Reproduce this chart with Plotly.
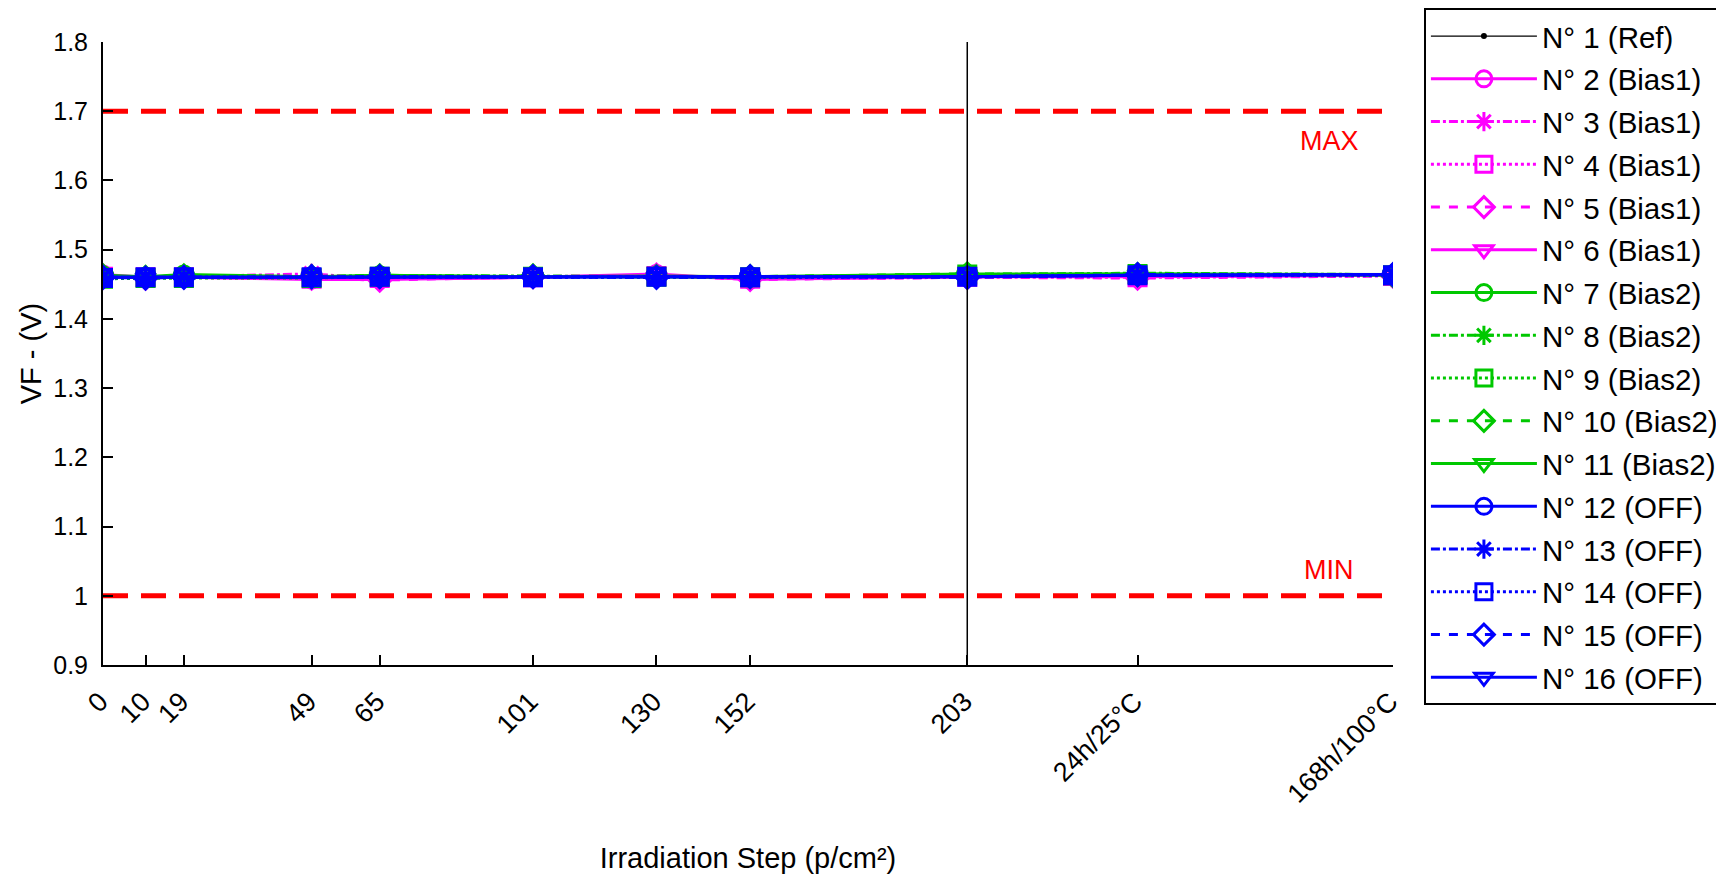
import plotly.graph_objects as go

# ---- data ----
x_steps = [0, 10, 19, 49, 65, 101, 130, 152, 203, 243, 303]
x_labels = ["0", "10", "19", "49", "65", "101", "130", "152", "203", "24h/25°C", "168h/100°C"]

names = ["N° 1 (Ref)", "N° 2 (Bias1)", "N° 3 (Bias1)", "N° 4 (Bias1)", "N° 5 (Bias1)", "N° 6 (Bias1)",
         "N° 7 (Bias2)", "N° 8 (Bias2)", "N° 9 (Bias2)", "N° 10 (Bias2)", "N° 11 (Bias2)",
         "N° 12 (OFF)", "N° 13 (OFF)", "N° 14 (OFF)", "N° 15 (OFF)", "N° 16 (OFF)"]

vf_01 = [1.460, 1.459, 1.460, 1.460, 1.461, 1.460, 1.461, 1.460, 1.461, 1.462, 1.463]
vf_02 = [1.464, 1.460, 1.460, 1.457, 1.457, 1.460, 1.465, 1.457, 1.461, 1.462, 1.463]
vf_03 = [1.462, 1.459, 1.461, 1.465, 1.458, 1.460, 1.463, 1.458, 1.460, 1.461, 1.463]
vf_04 = [1.461, 1.460, 1.460, 1.458, 1.459, 1.460, 1.462, 1.458, 1.461, 1.460, 1.462]
vf_05 = [1.462, 1.459, 1.461, 1.459, 1.456, 1.461, 1.463, 1.457, 1.460, 1.459, 1.462]
vf_06 = [1.461, 1.460, 1.460, 1.458, 1.458, 1.460, 1.462, 1.458, 1.461, 1.461, 1.463]
vf_07 = [1.463, 1.461, 1.464, 1.461, 1.463, 1.461, 1.462, 1.461, 1.465, 1.465, 1.463]
vf_08 = [1.462, 1.460, 1.463, 1.461, 1.463, 1.462, 1.461, 1.460, 1.464, 1.466, 1.464]
vf_09 = [1.458, 1.459, 1.459, 1.459, 1.461, 1.461, 1.461, 1.460, 1.464, 1.465, 1.463]
vf_10 = [1.462, 1.460, 1.462, 1.461, 1.462, 1.462, 1.461, 1.461, 1.465, 1.464, 1.463]
vf_11 = [1.462, 1.460, 1.462, 1.460, 1.462, 1.461, 1.461, 1.460, 1.464, 1.465, 1.464]
vf_12 = [1.460, 1.460, 1.460, 1.461, 1.461, 1.461, 1.461, 1.461, 1.461, 1.463, 1.464]
vf_13 = [1.460, 1.460, 1.461, 1.461, 1.460, 1.461, 1.461, 1.461, 1.461, 1.463, 1.464]
vf_14 = [1.459, 1.460, 1.460, 1.460, 1.461, 1.460, 1.461, 1.460, 1.461, 1.463, 1.463]
vf_15 = [1.460, 1.459, 1.460, 1.461, 1.461, 1.461, 1.460, 1.461, 1.460, 1.464, 1.464]
vf_16 = [1.460, 1.460, 1.460, 1.461, 1.461, 1.461, 1.461, 1.461, 1.461, 1.463, 1.464]

limit_values = [1.7, 1.0]
limit_labels = ["MAX", "MIN"]
limit_label_x = 288
limit_label_y = [1.657, 1.037]
marker_line_x = 203

series = [vf_01, vf_02, vf_03, vf_04, vf_05, vf_06, vf_07, vf_08, vf_09, vf_10,
          vf_11, vf_12, vf_13, vf_14, vf_15, vf_16]

# ---- styles ----
FONT = "Liberation Sans, Arial, sans-serif"
colors = ["#000000"] + ["#ff00ff"] * 5 + ["#00c800"] * 5 + ["#0000ff"] * 5
dashes = ["solid"] + ["solid", "dashdot", "dot", "dash", "solid"] * 3
symbols = ["circle"] + ["circle-open", "asterisk-open", "square-open", "diamond-open", "triangle-down-open"] * 3

fig = go.Figure()

for i, (nm, vals) in enumerate(zip(names, series)):
    if i == 0:
        fig.add_trace(go.Scatter(
            x=x_steps, y=vals, name=nm, mode="lines+markers",
            line=dict(color=colors[i], width=1.2, dash=dashes[i]),
            marker=dict(symbol=symbols[i], size=6, color=colors[i]),
            legendgroup=nm))
    else:
        fig.add_trace(go.Scatter(
            x=x_steps, y=vals, name=nm, mode="lines+markers",
            line=dict(color=colors[i], width=3, dash=dashes[i]),
            marker=dict(symbol=symbols[i], size=17, color=colors[i],
                        line=dict(color=colors[i], width=3)),
            legendgroup=nm))

for lv in limit_values:
    fig.add_trace(go.Scatter(
        x=[x_steps[0], x_steps[-1]], y=[lv, lv], mode="lines", showlegend=False,
        line=dict(color="#ff0000", width=5, dash="25px,13px"), hoverinfo="skip"))

fig.add_trace(go.Scatter(
    x=[marker_line_x, marker_line_x], y=[0.9, 1.8], mode="lines", showlegend=False,
    line=dict(color="#000000", width=1.5), hoverinfo="skip"))

for txt, ly in zip(limit_labels, limit_label_y):
    fig.add_annotation(x=limit_label_x, y=ly, text=txt, showarrow=False,
                       font=dict(family=FONT, size=27, color="#ff0000"))

# the page body adds an 8px offset, compensated in the margins
fig.update_layout(
    width=1724, height=874,
    margin=dict(l=95, r=339, t=34, b=217, autoexpand=False),
    paper_bgcolor="white", plot_bgcolor="white",
    font=dict(family=FONT, size=24, color="#000000"),
    showlegend=True,
    legend=dict(
        xref="container", yref="container",
        x=0.8213, y=0.9995, xanchor="left", yanchor="top",
        bordercolor="#000000", borderwidth=2, bgcolor="white",
        font=dict(family=FONT, size=29.5, color="#000000"),
        tracegroupgap=1.4, traceorder="grouped", itemwidth=106,
        maxheight=870,
    ),
)

fig.update_xaxes(
    range=[0, 303], tickmode="array", tickvals=x_steps, ticktext=x_labels,
    tickangle=-45, ticks="inside", ticklen=10, tickwidth=1.5, tickcolor="#000000",
    showline=True, linecolor="#000000", linewidth=2, showgrid=False, zeroline=False,
    tickfont=dict(family=FONT, size=27), ticklabelstandoff=8, ticklabelshift=-3,
    title=dict(text="Irradiation Step (p/cm²)", font=dict(family=FONT, size=29), standoff=40),
)
fig.update_yaxes(
    range=[0.9, 1.8], tickmode="linear", tick0=0.9, dtick=0.1,
    ticks="inside", ticklen=10, tickwidth=1.5, tickcolor="#000000",
    showline=True, linecolor="#000000", linewidth=2, showgrid=False, zeroline=False,
    tickfont=dict(family=FONT, size=25), ticklabelstandoff=8,
    title=dict(text="VF - (V)", font=dict(family=FONT, size=29), standoff=3),
)

fig.write_html("out.html")
